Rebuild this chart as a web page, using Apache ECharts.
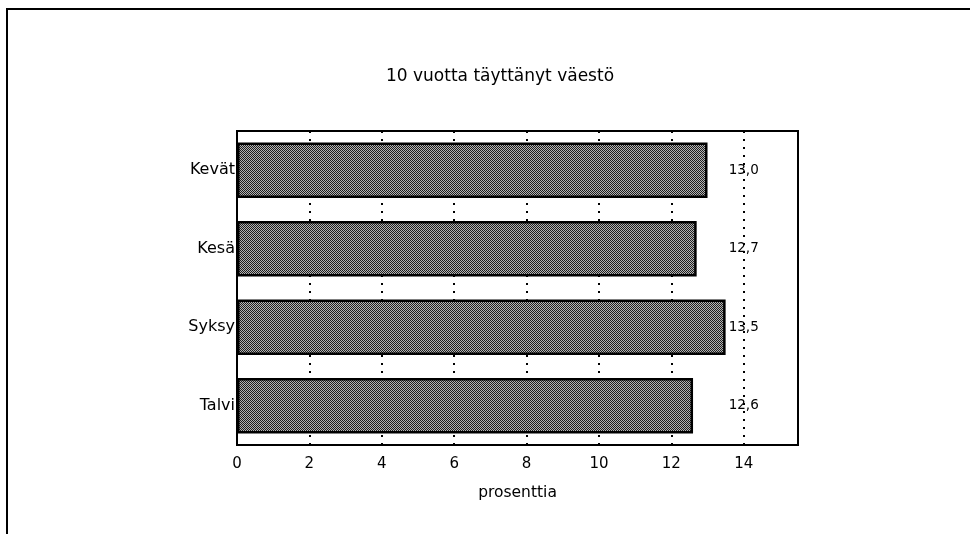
<!DOCTYPE html>
<html>
<head>
<meta charset="utf-8">
<script src="https://cdn.jsdelivr.net/npm/echarts@6/dist/echarts.min.js"></script>
<style>
    html, body { margin: 0; padding: 0; background: #fff; }
    #chart { width: 970px; height: 534px; }
</style>
</head>
<body>
<div id="chart"></div>
<script>
    // kaudet ja osuudet (%)
    const seasons = ['Kevät', 'Kesä', 'Syksy', 'Talvi']
    const shares = [13.0, 12.7, 13.5, 12.6]
    const xTicks = [0, 2, 4, 6, 8, 10, 12, 14]
    const labelAt = 14

    // checkered fill like the printed raster
    const pat = document.createElement('canvas')
    pat.width = 2
    pat.height = 2
    const ctx = pat.getContext('2d')
    ctx.fillStyle = '#b4b4b4'
    ctx.fillRect(0, 0, 2, 2)
    ctx.fillStyle = '#1e1e1e'
    ctx.fillRect(0, 0, 1, 1)
    ctx.fillRect(1, 1, 1, 1)

    const font = 'DejaVu Sans'
    const chart = echarts.init(document.getElementById('chart'))
    const option = {
        backgroundColor: '#fff',
        animation: false,
        title: {
            text: '10 vuotta täyttänyt väestö',
            left: 495,
            top: 63,
            textAlign: 'center',
            textStyle: { fontFamily: font, fontSize: 17, fontWeight: 'normal', color: '#000' }
        },
        graphic: [{
            type: 'rect',
            shape: { x: 7, y: 9, width: 1000, height: 600 },
            style: { fill: 'none', stroke: '#000', lineWidth: 2 },
            silent: true
        }],
        grid: {
            left: 237,
            top: 131,
            right: 172,
            bottom: 89,
            show: true,
            borderColor: '#000',
            borderWidth: 2,
            backgroundColor: 'transparent'
        },
        xAxis: {
            type: 'value',
            min: 0,
            max: 15.5,
            interval: 2,
            name: 'prosenttia',
            nameLocation: 'middle',
            nameGap: 40,
            nameTextStyle: { fontFamily: font, fontSize: 15.5, color: '#000' },
            axisLine: { show: true, lineStyle: { color: '#000', width: 2 } },
            axisTick: { show: false },
            axisLabel: {
                fontFamily: font,
                fontSize: 15,
                color: '#000',
                margin: 12,
                formatter: v => xTicks.indexOf(v) >= 0 ? String(v) : ''
            },
            splitLine: {
                show: true,
                lineStyle: { color: '#000', width: 2, type: [2, 6] }
            }
        },
        yAxis: {
            type: 'category',
            data: seasons,
            inverse: true,
            axisLine: { show: true, lineStyle: { color: '#000', width: 2 } },
            axisTick: { show: false },
            axisLabel: { fontFamily: font, fontSize: 16, color: '#000', margin: 2 }
        },
        series: [
            {
                type: 'bar',
                data: shares,
                barCategoryGap: '29%',
                itemStyle: {
                    color: { image: pat, repeat: 'repeat' },
                    borderColor: '#000',
                    borderWidth: 2.5
                },
                z: 3
            },
            {
                type: 'scatter',
                data: shares.map((v, i) => [labelAt, seasons[i]]),
                symbolSize: 0,
                itemStyle: { opacity: 1 },
                label: {
                    show: true,
                    position: 'inside',
                    fontFamily: font,
                    fontSize: 13.5,
                    color: '#000',
                    opacity: 1,
                    formatter: p => shares[p.dataIndex].toFixed(1).replace('.', ',')
                },
                z: 4
            }
        ]
    }
    chart.setOption(option)
</script>
</body>
</html>
